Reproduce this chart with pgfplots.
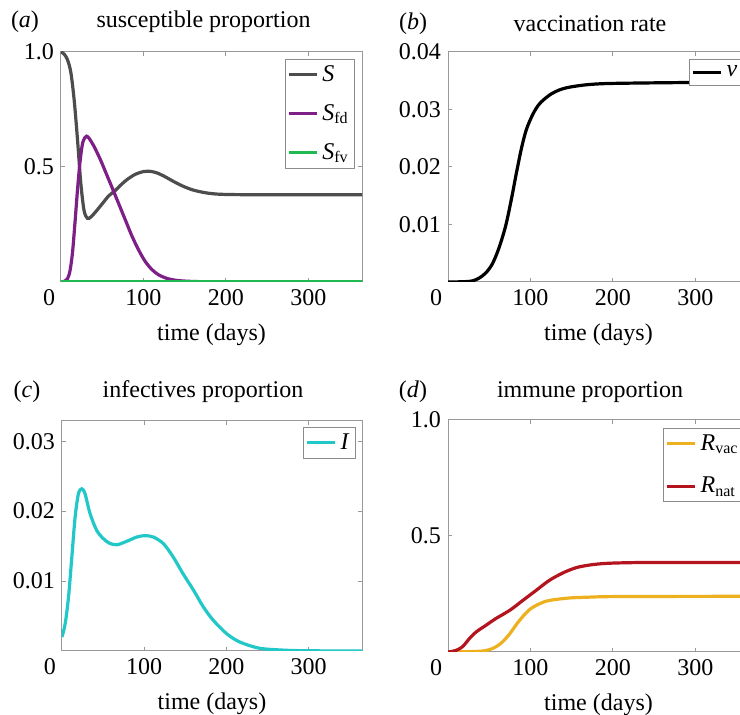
\documentclass[border=0pt]{standalone}
\usepackage{fontspec}
\setmainfont{Liberation Serif}
\usepackage{pgfplots}
\pgfplotsset{compat=1.18}

\definecolor{cS}{HTML}{4D4D4D}
\definecolor{cSfd}{HTML}{7E1E87}
\definecolor{cSfv}{HTML}{1EB950}
\definecolor{cI}{HTML}{22C7C7}
\definecolor{cRvac}{HTML}{EDB120}
\definecolor{cRnat}{HTML}{B4141E}

\newcommand{\twelve}{\fontsize{12}{14}\selectfont}

\pgfplotsset{
  panel/.style={
    scale only axis, width=150.5pt, height=115pt,
    anchor=south west,
    xmin=0, xmax=365,
    xtick={0,100,200,300},
    xticklabels={\llap{0\hspace{3pt}},100,200,300},
    scaled y ticks=false,
    axis line style={black!40, line width=0.5pt},
    every tick/.style={black!40, line width=0.5pt},
    major tick length=2pt,
    tick align=inside,
    ticklabel style={font=\twelve},
    /pgf/number format/assume math mode=true,
    xlabel={time (days)},
    xlabel style={at={(axis description cs:0.5,0)}, anchor=center, yshift=-26.5pt, font=\twelve},
    legend cell align=left,
    legend style={draw=black!45, fill=white, font=\twelve, inner sep=1pt, row sep=6pt},
    legend image code/.code={\draw[##1, line width=1.6pt] (0pt,0pt) -- (14pt,0pt);},
    every axis plot/.append style={line width=1.6pt, smooth, no markers},
  },
}

\begin{document}
\begin{tikzpicture}
\useasboundingbox (0,0) rectangle (370pt,357.5pt);
\clip (0,0) rectangle (370pt,357.5pt);

% (a) susceptible proportion
\begin{axis}[panel, at={(30.5pt,216.5pt)},
  ymin=0, ymax=1, ytick={0.5,1}, yticklabels={0.5,1.0},
  legend style={at={(1,1)}, anchor=north east, xshift=-3.5pt, yshift=-3.5pt}]
\addplot[cS] coordinates {
(0,1.0) (4,0.99) (8,0.965) (12,0.91) (16,0.79) (20,0.62) (24,0.43) (28,0.31)
(32,0.277) (36,0.282) (42,0.305) (50,0.34) (58,0.375) (65,0.395) (72,0.42)
(80,0.445) (90,0.468) (100,0.48) (106,0.482) (115,0.476) (125,0.46) (135,0.44)
(147,0.418) (160,0.4) (175,0.388) (190,0.382) (210,0.38) (250,0.379) (300,0.379) (365,0.379)};
\addlegendentry{\textit{S}}
\addplot[cSfd] coordinates {
(0,0) (4,0.003) (8,0.015) (11,0.05) (14,0.13) (17,0.26) (20,0.4) (23,0.52) (26,0.6)
(29,0.628) (31,0.634) (34,0.625) (40,0.59) (48,0.53) (55,0.47) (62,0.41)
(70,0.34) (78,0.27) (86,0.2) (94,0.14) (102,0.09) (110,0.055) (118,0.032)
(128,0.016) (140,0.007) (155,0.003) (175,0.001) (200,0) (365,0)};
\addlegendentry{\textit{S}\textsubscript{fd}}
\addplot[cSfv] coordinates {(0,0) (100,0) (200,0) (300,0) (365,0)};
\addlegendentry{\textit{S}\textsubscript{fv}}
\end{axis}

% (b) vaccination rate
\begin{axis}[panel, at={(224pt,216.5pt)},
  ymin=0, ymax=0.04, ytick={0.01,0.02,0.03,0.04}, yticklabels={0.01,0.02,0.03,0.04},
  legend style={at={(0,1)}, anchor=north west, xshift=120.5pt, yshift=-3.5pt}]
\addplot[black] coordinates {
(0,0) (20,0.00005) (30,0.0002) (38,0.0007) (46,0.0016) (54,0.0032) (62,0.006)
(70,0.0098) (77,0.0145) (83,0.019) (89,0.0232) (95,0.0265) (103,0.0292)
(111,0.031) (123,0.0325) (135,0.0334) (148,0.0339) (168,0.0343) (190,0.0345)
(230,0.0346) (300,0.0347) (365,0.0347)};
\addlegendentry{\textit{v}}
\end{axis}

% (c) infectives proportion
\begin{axis}[panel, at={(31pt,32pt)}, width=150pt,
  ymin=0, ymax=0.0329, ytick={0.01,0.02,0.03}, yticklabels={0.01,0.02,0.03},
  legend style={at={(1,1)}, anchor=north east, xshift=-3pt, yshift=-3pt}]
\addplot[cI] coordinates {
(0,0.002) (4,0.004) (8,0.0078) (12,0.0135) (16,0.0192) (20,0.0225) (24,0.0232)
(28,0.0225) (34,0.0197) (42,0.0173) (50,0.0161) (58,0.0154) (67,0.0152)
(79,0.0157) (91,0.0163) (101,0.0165) (111,0.0163) (123,0.0154) (135,0.0135)
(147,0.0111) (160,0.0087) (172,0.0063) (184,0.0044) (200,0.0025) (216,0.0013)
(240,0.0004) (270,0.00012) (300,0.00003) (365,0)};
\addlegendentry{\textit{I}}
\end{axis}

% (d) immune proportion
\begin{axis}[panel, at={(224pt,31.5pt)}, height=116pt,
  ymin=0, ymax=1, ytick={0.5,1}, yticklabels={0.5,1.0},
  legend style={at={(0,1)}, anchor=north west, xshift=107.5pt, yshift=-4pt, row sep=8pt}]
\addplot[cRvac] coordinates {
(0,0) (38,0.003) (50,0.01) (58,0.022) (66,0.043) (75,0.079) (83,0.119) (91,0.154)
(99,0.183) (107,0.201) (119,0.219) (132,0.227) (148,0.233) (168,0.236) (208,0.239) (365,0.24)};
\addlegendentry{\textit{R}\textsubscript{vac}}
\addplot[cRnat] coordinates {
(0,0) (10,0.007) (18,0.024) (26,0.058) (34,0.086) (46,0.115) (58,0.144) (75,0.18)
(91,0.223) (107,0.266) (123,0.309) (140,0.342) (156,0.364) (172,0.375) (188,0.381)
(208,0.384) (250,0.386) (365,0.386)};
\addlegendentry{\textit{R}\textsubscript{nat}}
\end{axis}

% panel titles
\node[font=\twelve] at (12.5pt,346.5pt) {(\textit{a})};
\node[font=\twelve] at (101.75pt,346.5pt) {susceptible proportion};
\node[font=\twelve] at (206.5pt,345.5pt) {(\textit{b})};
\node[font=\twelve] at (295pt,345.5pt) {vaccination rate};
\node[font=\twelve] at (13.5pt,161.5pt) {(\textit{c})};
\node[font=\twelve] at (101.5pt,161.5pt) {infectives proportion};
\node[font=\twelve] at (206.5pt,161.5pt) {(\textit{d})};
\node[font=\twelve] at (295pt,161.5pt) {immune proportion};
\end{tikzpicture}
\end{document}
